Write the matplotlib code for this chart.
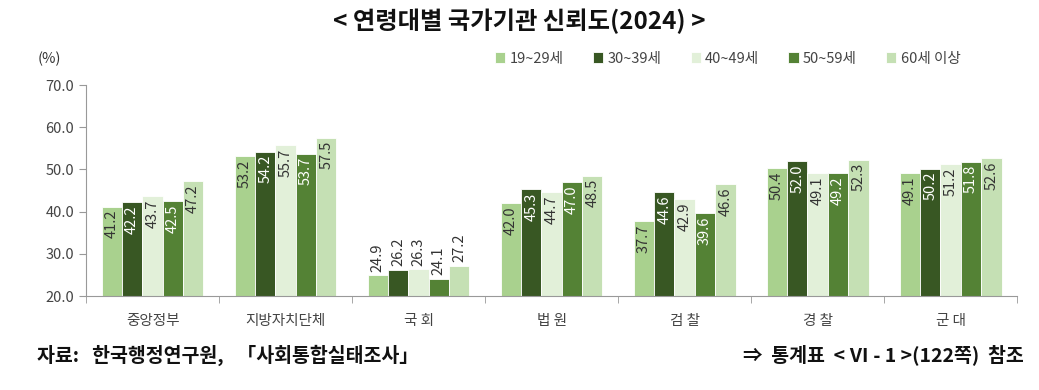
import matplotlib
matplotlib.use("Agg")
import matplotlib.pyplot as plt
import numpy as np

plt.rcParams['font.family'] = ['Noto Sans CJK KR', 'DejaVu Sans']

categories = ['중앙정부', '지방자치단체', '국 회', '법 원', '검 찰', '경 찰', '군 대']
series = ['19~29세', '30~39세', '40~49세', '50~59세', '60세 이상']
values = {
    '19~29세': [41.2, 53.2, 24.9, 42.0, 37.7, 50.4, 49.1],
    '30~39세': [42.2, 54.2, 26.2, 45.3, 44.6, 52.0, 50.2],
    '40~49세': [43.7, 55.7, 26.3, 44.7, 42.9, 49.1, 51.2],
    '50~59세': [42.5, 53.7, 24.1, 47.0, 39.6, 49.2, 51.8],
    '60세 이상': [47.2, 57.5, 27.2, 48.5, 46.6, 52.3, 52.6],
}
colors = ['#a9d18e', '#385723', '#e2f0d9', '#548235', '#c5e0b4']
label_colors = ['#333333', '#ffffff', '#333333', '#ffffff', '#333333']

fig = plt.figure(figsize=(10.39, 3.9), dpi=100)
ax = fig.add_axes([0.0828, 0.241, 0.8962, 0.541])

n = len(series)
bw = 0.153
x = np.arange(len(categories))
for i, s in enumerate(series):
    pos = x + (i - (n - 1) / 2) * bw
    bars = ax.bar(pos, values[s], bw, bottom=0, color=colors[i], edgecolor='white',
                  linewidth=0.6, label=s, zorder=2)
    for j, (b, v) in enumerate(zip(bars, values[s])):
        cx = b.get_x() + b.get_width() / 2
        if categories[j] == '국 회':
            ax.text(cx, v + 0.8, f'{v:.1f}', rotation=90, ha='center', va='bottom',
                    fontsize=10.5, color='#333333')
        else:
            ax.text(cx, v - 0.8, f'{v:.1f}', rotation=90, ha='center', va='top',
                    fontsize=10.5, color=label_colors[i])

ax.set_ylim(20, 70)
ax.set_xlim(-0.5, len(categories) - 0.5)
ax.set_yticks(np.arange(20, 71, 10))
ax.set_yticklabels([f'{t:.1f}' for t in np.arange(20, 71, 10)], fontsize=10.5, color='#444444')
ax.set_xticks(x)
ax.set_xticklabels(categories, fontsize=10.5, color='#444444')
ax.tick_params(axis='x', length=0, pad=13)
ax.set_xticks(np.arange(-0.5, len(categories), 1), minor=True)
ax.tick_params(axis='x', which='minor', length=5, color='#999999')
ax.tick_params(axis='y', length=5, color='#999999')
for sp in ['top', 'right']:
    ax.spines[sp].set_visible(False)
for sp in ['left', 'bottom']:
    ax.spines[sp].set_color('#999999')

fig.text(0.5, 0.945, '< 연령대별 국가기관 신뢰도(2024) >', ha='center', va='center',
         fontsize=17.5, fontweight='bold', color='#111111')
fig.text(0.036, 0.848, '(%)', ha='left', va='center', fontsize=10.5, color='#333333')

leg = fig.legend(loc='center right', bbox_to_anchor=(0.937, 0.850), ncol=5, frameon=False,
                 fontsize=10.5, handlelength=0.7, handleheight=0.7, handletextpad=0.3,
                 columnspacing=2.0)
for t in leg.get_texts():
    t.set_color('#444444')

fig.text(0.036, 0.09, '자료:   한국행정연구원,   「사회통합실태조사」', ha='left', va='center',
         fontsize=14, fontweight='bold', color='#111111')
fig.text(0.985, 0.09, '⇒  통계표  < Ⅵ - 1 >(122쪽)  참조', ha='right', va='center',
         fontsize=14, fontweight='bold', color='#111111')

fig.savefig('out.png', dpi=100)
